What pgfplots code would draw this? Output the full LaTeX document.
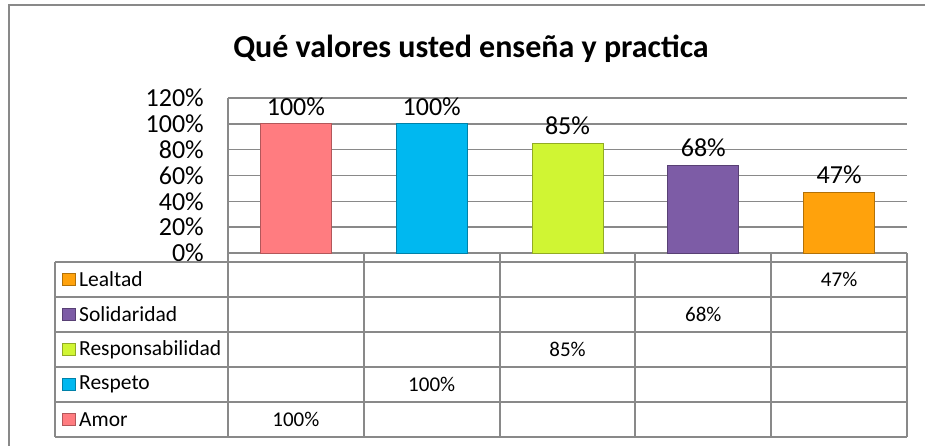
\documentclass[border=0pt]{standalone}
\usepackage{fontspec}
\setmainfont{Carlito}
\usepackage{pgfplots}
\pgfplotsset{compat=1.18}

\definecolor{gridc}{HTML}{898989}
\definecolor{amor}{HTML}{FF7C80}
\definecolor{respeto}{HTML}{00B8F0}
\definecolor{respons}{HTML}{D0F533}
\definecolor{solidar}{HTML}{7D5CA6}
\definecolor{leal}{HTML}{FFA20C}

\pgfplotsset{
  barlbl/.style={
    nodes near coords={\pgfmathprintnumber{\pgfplotspointmeta}\%},
    nodes near coords style={font=\fontsize{26}{26}\selectfont, text=black, inner sep=3pt, yshift=5pt}},
}

\begin{document}
\begin{tikzpicture}
\useasboundingbox (0pt,0pt) rectangle (925pt,-446pt);
% chart frame
\draw[gridc, line width=2pt] (9pt,-450pt) -- (9pt,-5pt) -- (930pt,-5pt);
\node[font=\bfseries\fontsize{32}{32}\selectfont] at (471pt,-49pt) {Qué valores usted enseña y practica};

\begin{axis}[
  at={(228pt,-253pt)}, anchor=south west,
  scale only axis, width=679pt, height=155pt,
  xmin=-0.5, xmax=4.5, ymin=0, ymax=120,
  axis lines*=left, axis line style={gridc, line width=1.5pt},
  xtick=\empty,
  ytick={0,20,...,120},
  yticklabels={0\%,20\%,40\%,60\%,80\%,100\%,120\%},
  ytick style={draw=none},
  ymajorgrids, grid style={gridc, line width=1.5pt},
  y tick label style={font=\fontsize{26}{26}\selectfont, inner sep=0pt, xshift=-24pt},
  /pgf/number format/assume math mode=true,
  ybar, bar width=71pt, bar shift=0pt,
  clip=false,
]
\addplot[barlbl, fill=amor, draw=amor!70!black, line width=0.8pt] coordinates {(0,100)};
\addplot[barlbl, fill=respeto, draw=respeto!70!black, line width=0.8pt] coordinates {(1,100)};
\addplot[barlbl, fill=respons, draw=respons!70!black, line width=0.8pt] coordinates {(2,85)};
\addplot[barlbl, fill=solidar, draw=solidar!70!black, line width=0.8pt] coordinates {(3,68)};
\addplot[barlbl, fill=leal, draw=leal!70!black, line width=0.8pt] coordinates {(4,47)};
% data table values
\addplot[ybar=0pt, draw=none, fill=none, bar width=0pt,
  point meta=explicit,
  nodes near coords={\pgfmathprintnumber{\pgfplotspointmeta}\%},
  nodes near coords style={font=\fontsize{21}{21}\selectfont, text=black, anchor=center},
  nodes near coords align=center]
  coordinates {(0,-128.9)[100] (1,-101.8)[100] (2,-74.7)[85] (3,-47.6)[68] (4,-20.5)[47]};
\end{axis}

% data table grid
\foreach \y in {262,297,332,367,402,437} \draw[gridc, line width=2pt] (55pt,-\y pt) -- (907pt,-\y pt);
\draw[gridc, line width=2pt] (55pt,-262pt) -- (55pt,-437pt);
\foreach \x in {228,363.8,499.6,635.4,771.2,907} \draw[gridc, line width=2pt] (\x pt,-253pt) -- (\x pt,-437pt);
% legend keys and names
\foreach \n/\c [count=\i] in {Lealtad/leal,Solidaridad/solidar,Responsabilidad/respons,Respeto/respeto,Amor/amor}{
  \pgfmathsetmacro{\yc}{262+35*(\i-0.5)}
  \fill[color=\c] (62pt,-\yc pt+6pt) rectangle (75pt,-\yc pt-6pt);
  \draw[color=\c!70!black, line width=0.6pt] (62pt,-\yc pt+6pt) rectangle (75pt,-\yc pt-6pt);
  \node[anchor=west, inner sep=0pt, font=\fontsize{21.5}{21.5}\selectfont] at (79pt,-\yc pt) {\n};
}
\end{tikzpicture}
\end{document}
